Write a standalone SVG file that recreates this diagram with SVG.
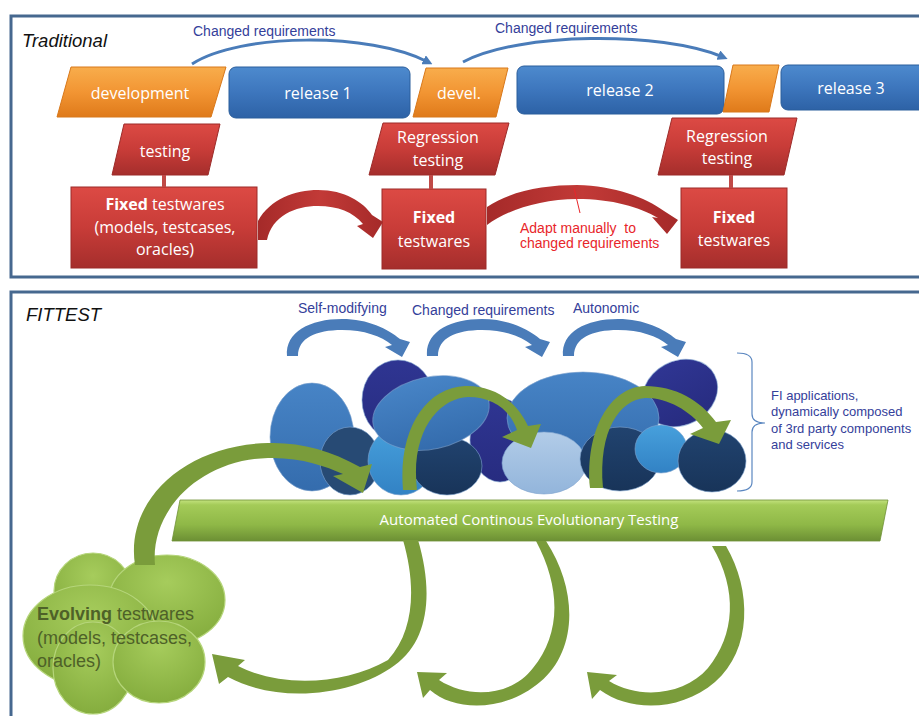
<svg xmlns="http://www.w3.org/2000/svg" width="919" height="716" viewBox="0 0 919 716">
  <defs>
    <linearGradient id="gOrange" x1="0" y1="0" x2="0" y2="1">
      <stop offset="0" stop-color="#f8ad4c"/>
      <stop offset="0.5" stop-color="#f29533"/>
      <stop offset="1" stop-color="#df7a1a"/>
    </linearGradient>
    <linearGradient id="gBlue" x1="0" y1="0" x2="0" y2="1">
      <stop offset="0" stop-color="#4d8ace"/>
      <stop offset="0.5" stop-color="#3d76bd"/>
      <stop offset="1" stop-color="#2d62a6"/>
    </linearGradient>
    <linearGradient id="gRed" x1="0" y1="0" x2="0" y2="1">
      <stop offset="0" stop-color="#dc4a44"/>
      <stop offset="0.5" stop-color="#c83c38"/>
      <stop offset="1" stop-color="#a52e2c"/>
    </linearGradient>
    <linearGradient id="gRedArrow" x1="0" y1="0" x2="1" y2="0">
      <stop offset="0" stop-color="#a52a29"/>
      <stop offset="0.5" stop-color="#c23a37"/>
      <stop offset="1" stop-color="#a52a29"/>
    </linearGradient>
    <linearGradient id="gBar" x1="0" y1="0" x2="0" y2="1">
      <stop offset="0" stop-color="#c3e27e"/>
      <stop offset="0.12" stop-color="#a4cb58"/>
      <stop offset="0.6" stop-color="#8fb847"/>
      <stop offset="1" stop-color="#6c8f34"/>
    </linearGradient>
    <radialGradient id="gCloud" cx="0.5" cy="0.3" r="0.7">
      <stop offset="0" stop-color="#a6cc5c"/>
      <stop offset="1" stop-color="#85ad3e"/>
    </radialGradient>
    <linearGradient id="gBlobBlue" x1="0" y1="0" x2="0" y2="1">
      <stop offset="0" stop-color="#4784c6"/>
      <stop offset="1" stop-color="#346cad"/>
    </linearGradient>
    <linearGradient id="gBlobNavy" x1="0" y1="0" x2="0" y2="1">
      <stop offset="0" stop-color="#2f3592"/>
      <stop offset="1" stop-color="#272c80"/>
    </linearGradient>
    <linearGradient id="gBlobDeep" x1="0" y1="0" x2="0" y2="1">
      <stop offset="0" stop-color="#21436f"/>
      <stop offset="1" stop-color="#183459"/>
    </linearGradient>
    <linearGradient id="gBlobCyan" x1="0" y1="0" x2="0" y2="1">
      <stop offset="0" stop-color="#47a0dc"/>
      <stop offset="1" stop-color="#3282c4"/>
    </linearGradient>
    <linearGradient id="gBlobPale" x1="0" y1="0" x2="0" y2="1">
      <stop offset="0" stop-color="#b2cce8"/>
      <stop offset="1" stop-color="#93b5db"/>
    </linearGradient>
    <marker id="headBlue" viewBox="0 0 10 10" refX="5" refY="5" markerWidth="10" markerHeight="10" markerUnits="userSpaceOnUse" orient="auto">
      <path d="M0,0 L10,5 L0,10 Z" fill="#4a7cb9"/>
    </marker>
    <!-- thick blue curved arrow used above the component cluster -->
    <path id="archBlue" d="M287,356 C285,332 310,319 342,319 C368,319 388,329 400,339 L410,342 L402,357 L385,347 L392,345 C381,336 364,330 342,330 C316,330 298,338 298,356 Z"/>
    <style>
      .frame { fill: none; stroke: #46688f; stroke-width: 3; }
      .lbl { font-family: "Open Sans", "Liberation Sans", sans-serif; font-size: 16px; fill: #ffffff; text-anchor: middle; }
      .b { font-weight: bold; }
      .navy { font-family: "Liberation Sans", Arial, sans-serif; font-size: 14px; fill: #34409a; white-space: pre; }
      .title { font-family: "Liberation Sans", Arial, sans-serif; font-size: 18.5px; font-style: italic; fill: #111111; }
      .orange { fill: url(#gOrange); stroke: #d8781a; stroke-width: 1; }
      .release { fill: url(#gBlue); stroke: #2b5e9c; stroke-width: 1; }
      .red { fill: url(#gRed); stroke: #9c2b29; stroke-width: 1; }
      .stem { stroke: #c04a47; stroke-width: 4; }
      .redArrow { fill: url(#gRedArrow); }
      .greenArrow { fill: #7a9c3b; }
      .blueArch { fill: #4a7cb9; }
      .cloud { fill: url(#gCloud); stroke: #b5d57a; stroke-width: 1.2; }
      .blob { stroke: #7fa3cf; stroke-width: 1; stroke-opacity: 0.6; }
    </style>
  </defs>

  <rect width="919" height="716" fill="#ffffff"/>

  <!-- Panels -->
  <g id="panel-traditional">
    <rect class="frame" x="11" y="16" width="930" height="261"/>
    <text class="title" x="22" y="47">Traditional</text>
  </g>
  <g id="panel-fittest">
    <rect class="frame" x="11" y="292" width="930" height="440"/>
    <text class="title" x="26" y="321">FITTEST</text>
  </g>

  <!-- Traditional: release timeline -->
  <g id="development">
    <polygon class="orange" points="71,67 226,67 211,117 57,117"/>
    <text class="lbl" x="140" y="99">development</text>
  </g>
  <g id="release1">
    <rect class="release" x="229" y="67" width="181" height="51" rx="7"/>
    <text class="lbl" x="318" y="99">release 1</text>
  </g>
  <g id="devel">
    <polygon class="orange" points="426,68 508,68 496,117 413,117"/>
    <text class="lbl" x="459" y="99">devel.</text>
  </g>
  <g id="release2">
    <rect class="release" x="517" y="66" width="207" height="48" rx="7"/>
    <text class="lbl" x="620" y="96">release 2</text>
  </g>
  <g id="devel-short">
    <polygon class="orange" points="733,65 779,65 769,112 723,112"/>
  </g>
  <g id="release3">
    <rect class="release" x="781" y="65" width="150" height="45" rx="7"/>
    <text class="lbl" x="851" y="94">release 3</text>
  </g>

  <!-- Traditional: testing stages -->
  <g id="testing1">
    <polygon class="red" points="124,124 220,124 208,175 112,175"/>
    <text class="lbl" x="165" y="157">testing</text>
  </g>
  <g id="testwares1">
    <rect class="red" x="71" y="187" width="186" height="81"/>
    <text class="lbl" x="165" y="210"><tspan class="b">Fixed</tspan> testwares</text>
    <text class="lbl" x="165" y="233">(models, testcases,</text>
    <text class="lbl" x="165" y="255">oracles)</text>
  </g>
  <g id="testing2">
    <polygon class="red" points="383,123 509,123 495,175 369,175"/>
    <text class="lbl" x="438" y="143">Regression</text>
    <text class="lbl" x="438" y="166">testing</text>
  </g>
  <g id="testwares2">
    <rect class="red" x="382" y="189" width="104" height="80"/>
    <text class="lbl b" x="434" y="223">Fixed</text>
    <text class="lbl" x="434" y="247">testwares</text>
  </g>
  <g id="testing3">
    <polygon class="red" points="672,118 797,118 784,175 658,175"/>
    <text class="lbl" x="727" y="142">Regression</text>
    <text class="lbl" x="727" y="164">testing</text>
  </g>
  <g id="testwares3">
    <rect class="red" x="681" y="188" width="106" height="80"/>
    <text class="lbl b" x="734" y="223">Fixed</text>
    <text class="lbl" x="734" y="246">testwares</text>
  </g>

  <!-- FITTEST: component cluster -->
  <g id="components">
    <ellipse class="blob" cx="398" cy="400" rx="36" ry="40" fill="url(#gBlobNavy)"/>
    <ellipse class="blob" cx="500" cy="440" rx="30" ry="42" fill="url(#gBlobNavy)"/>
    <ellipse class="blob" cx="680" cy="393" rx="39" ry="32" transform="rotate(-28 680 393)" fill="url(#gBlobNavy)"/>
    <ellipse class="blob" cx="312" cy="437" rx="42" ry="54" fill="url(#gBlobBlue)"/>
    <ellipse class="blob" cx="350" cy="461" rx="30" ry="34" fill="#274a74"/>
    <ellipse class="blob" cx="401" cy="461" rx="33" ry="34" fill="url(#gBlobCyan)"/>
    <ellipse class="blob" cx="447" cy="466" rx="35" ry="29" fill="url(#gBlobDeep)"/>
    <ellipse class="blob" cx="431" cy="413" rx="59" ry="36" transform="rotate(-12 431 413)" fill="url(#gBlobBlue)"/>
    <ellipse class="blob" cx="583" cy="418" rx="76" ry="46" fill="url(#gBlobBlue)"/>
    <ellipse class="blob" cx="544" cy="463" rx="42" ry="31" fill="url(#gBlobPale)"/>
    <ellipse class="blob" cx="620" cy="459" rx="40" ry="32" fill="url(#gBlobDeep)"/>
    <ellipse class="blob" cx="661" cy="449" rx="26" ry="24" fill="url(#gBlobCyan)"/>
    <ellipse class="blob" cx="712" cy="461" rx="34" ry="31" fill="url(#gBlobDeep)"/>
  </g>

  <g id="fi-applications">
    <path d="M737,353 Q752,353 752,362 L752,414 Q752,423 765,423 Q752,423 752,432 L752,482 Q752,491 737,491" fill="none" stroke="#5b87c0" stroke-width="1.2"/>
    <text class="navy" style="font-size:13px" x="771" y="400">FI applications,</text>
    <text class="navy" style="font-size:13px" x="771" y="416">dynamically composed</text>
    <text class="navy" style="font-size:13px" x="771" y="433">of 3rd party components</text>
    <text class="navy" style="font-size:13px" x="771" y="449">and services</text>
  </g>

  <g id="act">
    <polygon points="180,500 888,500 880,541 172,541" fill="url(#gBar)" stroke="#6f9136" stroke-width="0.8"/>
    <text class="lbl" style="font-size:15px" x="529" y="525">Automated Continous Evolutionary Testing</text>
  </g>

  <g id="evolving-testwares">
    <ellipse class="cloud" cx="93" cy="591" rx="39" ry="38"/>
    <ellipse class="cloud" cx="167" cy="600" rx="58" ry="45"/>
    <ellipse class="cloud" cx="90" cy="636" rx="67" ry="51"/>
    <ellipse class="cloud" cx="93" cy="668" rx="40" ry="46"/>
    <ellipse class="cloud" cx="159" cy="662" rx="46" ry="41"/>
    <g font-family="'Liberation Sans', Arial, sans-serif" font-size="18" fill="#4e6128">
      <text x="37" y="620"><tspan font-weight="bold">Evolving</tspan> testwares</text>
      <text x="37" y="644">(models, testcases,</text>
      <text x="37" y="667">oracles)</text>
    </g>
  </g>

  <!-- Connectors -->
  <g id="connectors">
    <!-- changed requirements between releases -->
    <path d="M192,64 C240,33 370,32 428,62" fill="none" stroke="#4a7cb9" stroke-width="3" marker-end="url(#headBlue)"/>
    <path d="M463,62 C520,32 660,31 723,57" fill="none" stroke="#4a7cb9" stroke-width="3" marker-end="url(#headBlue)"/>
    <text class="navy" x="193" y="36">Changed requirements</text>
    <text class="navy" x="495" y="33">Changed requirements</text>

    <!-- stems from testing to testwares -->
    <line class="stem" x1="164" y1="175" x2="164" y2="187"/>
    <line class="stem" x1="431" y1="175" x2="431" y2="189"/>
    <line class="stem" x1="731" y1="175" x2="731" y2="188"/>

    <!-- manual adaptation of testwares -->
    <path class="redArrow" d="M258,240 L258,221 C270,199 295,190 318,190 C345,190 363,202 372,215 L383,222 L373,238 L357,226 L363,224 C353,212 338,206 318,206 C295,206 272,216 267,240 Z"/>
    <path class="redArrow" d="M487,207 C510,191 545,185 577,185 C615,186 645,197 664,211 L678,220 L667,234 L652,217 L658,218 C640,207 612,199 577,199 C540,199 505,211 487,225 Z"/>
    <line x1="574" y1="188" x2="580" y2="213" stroke="#e8262a" stroke-width="1"/>
    <text class="navy" style="fill:#e8262a" x="520" y="233">Adapt manually  to</text>
    <text class="navy" style="fill:#e8262a" x="520" y="248">changed requirements</text>

    <!-- evolution of the applications -->
    <use href="#archBlue" class="blueArch"/>
    <use href="#archBlue" class="blueArch" transform="translate(140,0)"/>
    <use href="#archBlue" class="blueArch" transform="translate(276,0)"/>
    <text class="navy" x="298" y="313">Self-modifying</text>
    <text class="navy" x="412" y="315">Changed requirements</text>
    <text class="navy" x="573" y="313">Autonomic</text>

    <!-- testwares feeding the applications -->
    <path class="greenArrow" d="M155,565 C150,510 200,460 268,458 C300,457 325,466 343,474 L333,476 L363,493 L372,464 L360,467 C330,450 300,442 268,443 C185,445 125,500 135,565 Z"/>
    <path class="greenArrow" d="M417,490 C410,430 440,398 468,397 C493,397 510,410 517,430 L502,437 L531,448 L541,424 L528,426 C515,398 490,385 465,386 C425,388 398,430 403,490 Z"/>
    <path class="greenArrow" d="M603,488 C598,430 620,400 645,398 C665,397 690,410 703,428 L690,434 L719,444 L731,420 L716,422 C700,400 675,386 645,386 C610,387 585,430 590,488 Z"/>

    <!-- feedback from testing to testwares -->
    <path class="greenArrow" d="M403,540 L418,540 C433,590 430,640 395,665 C355,695 280,705 228,677 L219,684 L212,654 L245,660 L238,666 C280,688 345,685 388,660 C415,630 416,585 403,540 Z"/>
    <path class="greenArrow" d="M536,541 L546,541 C578,590 578,650 540,682 C505,712 455,712 430,690 L423,698 L417,672 L447,673 L439,680 C470,700 513,695 533,668 C560,635 562,590 536,541 Z"/>
    <path class="greenArrow" d="M712,546 L726,546 C752,590 752,650 715,682 C680,712 630,712 600,690 L592,699 L587,672 L617,675 L609,681 C640,700 685,695 708,668 C735,635 738,590 712,546 Z"/>
  </g>
</svg>
